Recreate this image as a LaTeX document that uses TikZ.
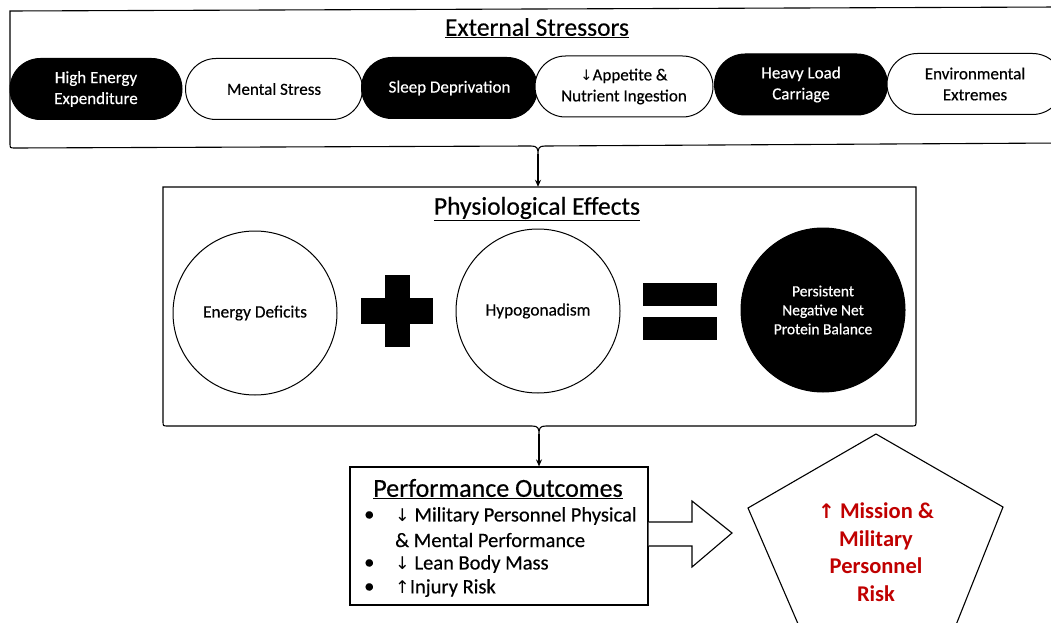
\documentclass[tikz,border=0pt]{standalone}
\usepackage{fontspec}
\setmainfont{Carlito}[UprightFeatures={FakeBold=0.4}]
\newfontfamily\arr{DejaVu Sans}
\usetikzlibrary{shapes.misc,shapes.geometric,arrows.meta,calc}
\definecolor{riskred}{RGB}{192,0,0}
\begin{document}
\begin{tikzpicture}[x=1pt,y=-1pt,
  frame/.style={draw=black,line width=1.1pt},
  pill/.style={rounded rectangle,draw=black,line width=1pt,minimum height=61pt,
    inner sep=0pt,align=center,font=\fontsize{17}{21}\selectfont},
  darkpill/.style={pill,fill=black,text=white},
  lightpill/.style={pill,fill=white,text=black},
  ring/.style={circle,draw=black,line width=1pt,minimum size=164pt,inner sep=0pt,
    align=center,font=\fontsize{17.3}{19}\selectfont},
  title/.style={font=\fontsize{25.5}{28}\selectfont},
  bar/.style={fill=black,draw=none,inner sep=0pt},
  blist/.style={anchor=west,inner sep=0pt,font=\fontsize{20.5}{24}\selectfont},
  flow/.style={draw=black,line width=1.2pt,-{Stealth[length=7pt,width=6pt]}},
  risk/.style={text=riskred,font=\bfseries\fontsize{22.5}{27.5}\selectfont,align=center}
]
\useasboundingbox (0,0) rectangle (1051,623);
\fill[white] (0,0) rectangle (1051,623);

% ---------- External stressors frame ----------
\draw[frame] (1060,7) -- (10,11) -- (10,143) .. controls (10,148) .. (15,148)
  -- (531,146) .. controls (537,146) and (538,148) .. (538,154)
  .. controls (538,148) and (539,146) .. (545,146) -- (1060,143);
\coordinate (dip1) at (538,154);
\node[title] (ext) at (537,28) {\underline{External Stressors}};

\node[darkpill,minimum width=172pt]  (s1) at (96,89)   {High Energy\\Expenditure};
\node[lightpill,minimum width=177pt] (s2) at (274,89)  {Mental Stress};
\node[darkpill,minimum width=176pt]  (s3) at (449.5,88) {Sleep Deprivation};
\node[lightpill,minimum width=178pt] (s4) at (624,86.5) {{\arr\fontsize{14.5}{21}\selectfont ↓}Appetite \&\\Nutrient Ingestion};
\node[darkpill,minimum width=173pt]  (s5) at (801,84.5) {Heavy Load\\Carriage};
\node[lightpill,minimum width=176pt] (s6) at (975,84)  {Environmental\\Extremes};

% ---------- Physiological effects frame ----------
\node[minimum width=753pt,minimum height=239pt,inner sep=0pt] (phys) at (539.5,306.5) {};
\draw[frame] (163,187) -- (916,187) -- (916,421) .. controls (916,426) .. (911,426)
  -- (546,426) .. controls (540,426) and (539,428) .. (539,434)
  .. controls (539,428) and (538,426) .. (532,426) -- (168,426)
  .. controls (163,426) .. (163,421) -- cycle;
\coordinate (dip2) at (539,434);
\node[title] (physt) at (537,209) {\underline{Physiological Effects}};

\node[ring] (ed) at (255,313) {Energy Deficits};
\node[ring] (hy) at (538,311) {Hypogonadism};
\node[ring,fill=black,text=white,font=\fontsize{15.5}{19}\selectfont] (pp) at (823,310) {Persistent\\Negative Net\\Protein Balance};

\node[bar,minimum width=72pt,minimum height=26pt] (plush) at (397,311) {};
\node[bar,minimum width=25pt,minimum height=72pt] (plusv) at (397,311) {};
\node[bar,minimum width=74pt,minimum height=23pt] (eq1) at (680,294.5) {};
\node[bar,minimum width=74pt,minimum height=23pt] (eq2) at (680,328.5) {};

% ---------- Performance outcomes ----------
\node[draw=black,line width=1.2pt,minimum width=298pt,minimum height=138pt,inner sep=0pt] (perf) at (499,536) {};
\node[font=\fontsize{26}{28}\selectfont] (perft) at (498,489) {\underline{Performance Outcomes}};
\node[blist] (b1) at (364,516) {•};
\node[blist] (b3) at (364,564) {•};
\node[blist] (b4) at (364,588) {•};
\node[blist] (l1) at (395,516) {{\arr\fontsize{17.5}{24}\selectfont ↓} Military Personnel Physical};
\node[blist] (l2) at (395,540) {\& Mental Performance};
\node[blist] (l3) at (395,564) {{\arr\fontsize{17.5}{24}\selectfont ↓} Lean Body Mass};
\node[blist] (l4) at (395,588) {{\arr\fontsize{17.5}{24}\selectfont ↑}Injury Risk};

% ---------- block arrow ----------
\draw[draw=black,line width=1.1pt,fill=white]
  ($(perf.east)+(0,-14)$) -- (692,522) -- (692,501) -- (732,533) -- (692,567) -- (692,546) -- ($(perf.east)+(0,10)$);

% ---------- pentagon ----------
\coordinate (pt) at (876,434);
\coordinate (pr) at (1003,507);
\coordinate (pl) at (748,508);
\coordinate (pbl) at (805,640);
\coordinate (pbr) at (950,640);
\draw[line width=1.1pt,fill=white] (pbl) -- (pl) -- (pt) -- (pr) -- (pbr);
\node[risk] (risk) at (876,552) {{\arr\fontsize{20}{27}\selectfont ↑} Mission \&\\Military\\Personnel\\Risk};

% ---------- connectors ----------
\draw[flow] (dip1) -- (dip1 |- phys.north);
\draw[flow] (dip2) -- (dip2 |- perf.north);
\end{tikzpicture}
\end{document}
